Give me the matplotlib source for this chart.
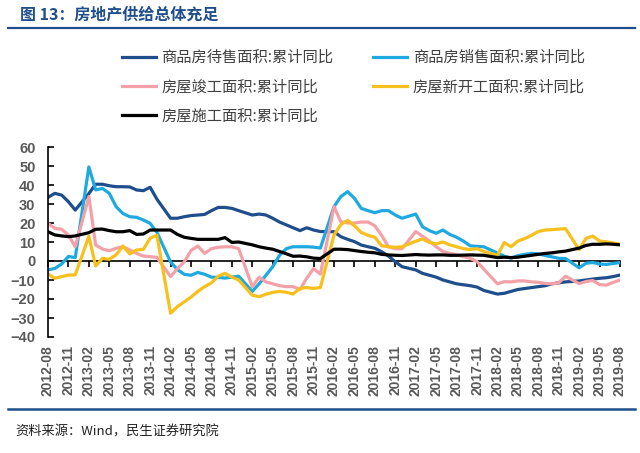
import numpy as np
import pandas as pd
import matplotlib
matplotlib.use('Agg')
import matplotlib.pyplot as plt
from matplotlib.lines import Line2D

plt.rcParams['font.family'] = ['Noto Sans CJK SC', 'DejaVu Sans']

# monthly, 2012-08 .. 2019-08 (no January value: Jan-Feb is reported together)
months = pd.period_range('2012-08', '2019-08', freq='M')
nan = np.nan

# 商品房待售面积:累计同比
inventory = [33.5, 35.6, 34.7, 31.2, 26.8,
             nan, 35.5, 40.4, 40.4, 39.6, 39.1, 39.1, 39.0, 37.4, 37.0, 38.8, 32.5,
             nan, 22.5, 22.5, 23.3, 23.9, 24.2, 24.5, 26.5, 28.2, 28.2, 27.7, 26.5,
             nan, 24.2, 24.7, 24.2, 22.5, 20.5, 19.0, 17.5, 16.0, 17.5, 16.3, 15.5,
             nan, 15.4, 12.8, 11.4, 10.2, 8.4, 7.5, 6.7, 4.9, 2.6, -0.4, -3.0,
             nan, -4.7, -6.5, -7.5, -8.5, -10.0, -11.0, -12.0, -12.5, -13.0, -13.7, -15.5,
             nan, -17.4, -17.0, -16.0, -15.0, -14.5, -14.0, -13.5, -13.0, -12.0, -11.5, -11.0,
             nan, -10.5, -10.0, -9.5, -9.1, -8.8, -8.2, -7.4]

# 商品房销售面积:累计同比
sales = [-4.7, -3.9, -1.6, 2.4, 1.8,
         nan, 49.5, 37.4, 38.2, 35.6, 28.6, 25.0, 23.3, 23.0, 21.6, 19.8, 15.0,
         nan, -0.5, -4.5, -7.0, -7.5, -6.0, -7.0, -8.5, -8.6, -9.0, -8.5, -8.0,
         nan, -16.0, -12.0, -7.5, -3.0, 3.0, 6.5, 7.5, 7.5, 7.5, 7.3, 6.8,
         nan, 28.6, 33.9, 36.5, 33.0, 27.7, 26.5, 25.4, 26.5, 26.5, 24.2, 22.5,
         nan, 24.7, 18.0, 16.0, 14.6, 16.3, 14.0, 12.5, 10.5, 8.0, 7.7, 7.5,
         nan, 4.2, 2.5, 1.5, 2.8, 3.5, 4.0, 3.8, 2.9, 2.2, 1.4, 1.3,
         nan, -3.6, -1.2, -0.8, -1.6, -1.8, -1.3, -0.8]

# 房屋竣工面积:累计同比
completed = [19.8, 17.2, 16.7, 13.7, 7.5,
             nan, 33.9, 8.4, 6.3, 5.4, 6.7, 7.5, 5.8, 4.0, 2.6, 2.3, 1.9,
             nan, -8.2, -4.0, -0.5, 5.5, 7.9, 4.0, 6.5, 7.2, 7.5, 7.5, 6.5,
             nan, -13.5, -8.5, -11.0, -12.0, -13.0, -13.5, -13.5, -15.0, -9.0, -4.0, -6.9,
             nan, 28.6, 20.7, 20.0, 20.0, 20.5, 20.5, 18.5, 13.5, 7.5, 6.5, 6.5,
             nan, 15.5, 13.0, 10.5, 7.5, 5.0, 4.0, 3.3, 2.3, 1.4, -0.3, -4.3,
             nan, -12.0, -10.9, -11.0, -10.5, -10.5, -11.0, -11.2, -11.8, -12.0, -11.5, -8.0,
             nan, -11.9, -10.8, -10.3, -12.4, -12.7, -11.3, -10.0]

# 房屋新开工面积:累计同比
started = [-6.8, -9.1, -8.2, -7.4, -7.3,
           nan, 13.0, -2.6, 1.4, 0.9, 3.2, 7.9, 3.7, 5.8, 6.1, 12.0, 13.5,
           nan, -27.5, -24.0, -21.5, -19.0, -16.0, -13.5, -11.5, -8.0, -6.5, -8.5, -10.0,
           nan, -18.0, -18.8, -17.5, -16.5, -16.0, -16.5, -17.4, -14.4, -14.0, -14.4, -14.0,
           nan, 13.7, 19.2, 21.4, 18.5, 15.0, 13.5, 12.5, 8.0, 7.5, 7.2, 7.5,
           nan, 10.4, 11.6, 9.8, 9.0, 10.0, 8.5, 7.5, 6.5, 6.0, 6.5, 5.0,
           nan, 3.0, 9.7, 7.5, 10.5, 11.8, 13.5, 15.5, 16.3, 16.5, 16.8, 17.0,
           nan, 6.0, 11.9, 13.1, 10.5, 10.1, 9.5, 8.9]

# 房屋施工面积:累计同比
construction = [15.4, 13.7, 13.2, 12.8, 13.2,
                nan, 14.9, 16.7, 16.8, 16.0, 15.4, 15.4, 16.0, 14.0, 14.2, 16.3, 16.3,
                nan, 16.3, 14.0, 12.5, 11.9, 11.4, 11.4, 11.4, 11.4, 12.3, 9.8, 10.0,
                nan, 8.5, 7.5, 6.8, 6.2, 5.0, 3.8, 2.5, 2.6, 2.2, 1.5, 1.3,
                nan, 6.2, 6.2, 6.0, 5.5, 5.0, 4.6, 4.3, 3.5, 3.2, 3.0, 2.9,
                nan, 3.4, 3.2, 3.1, 3.2, 3.2, 3.0, 3.0, 3.1, 3.2, 3.1, 3.0,
                nan, 1.8, 2.0, 1.8, 2.0, 2.5, 3.0, 3.5, 4.0, 4.3, 4.8, 5.2,
                nan, 6.8, 8.2, 8.8, 8.8, 9.0, 8.8, 8.5]

labels = ['商品房待售面积:累计同比', '商品房销售面积:累计同比', '房屋竣工面积:累计同比',
          '房屋新开工面积:累计同比', '房屋施工面积:累计同比']
colors = ['#1F4E8C', '#1EA9E1', '#F3A1A8', '#F8C01C', '#000000']
tick_labels = [str(p) for p in months[::3]]

x = np.arange(len(months))

fig = plt.figure(figsize=(6.4, 4.53), dpi=100)
ax = fig.add_axes([48 / 640, 1 - 337 / 453, 572 / 640, 190 / 453])

handles = {}
for vals, c, lab in zip([inventory, sales, completed, started, construction], colors, labels):
    y = np.array(vals, dtype=float)
    ok = ~np.isnan(y)
    h, = ax.plot(x[ok], y[ok], color=c, lw=2.3, label=lab)
    handles[lab] = h

ax.set_xlim(0, len(months) - 1)
ax.set_ylim(-40, 60)
ax.set_yticks(range(-40, 61, 10))
ax.set_xticks(x[::3])
ax.set_xticklabels(tick_labels, rotation=90, fontfamily='Liberation Sans',
                   fontweight='bold', fontsize=10, color='#595959')
for t in ax.get_yticklabels():
    t.set_fontfamily('Liberation Sans')
    t.set_fontweight('bold')
    t.set_fontsize(10.5)
    t.set_color('#595959')
ax.tick_params(axis='x', length=0, pad=6)
ax.tick_params(axis='y', direction='in', length=4, width=1.2, pad=9)
for s in ['top', 'right', 'bottom']:
    ax.spines[s].set_visible(False)
ax.spines['left'].set_linewidth(1.2)

# zero line carrying the month ticks
zero = ax.secondary_xaxis(0.4)
zero.set_xticks(x[::3])
zero.tick_params(direction='out', length=4, width=1.2, labelbottom=False)
zero.spines['bottom'].set_linewidth(1.2)

order = [labels[0], labels[2], labels[4], labels[1], labels[3]]
fig.legend([handles[k] for k in order], order, ncol=2, loc='upper left',
           bbox_to_anchor=(122 / 640, 1 - 49 / 453), frameon=False,
           fontsize=11, labelcolor='#404040', handlelength=2.2,
           handletextpad=0.38, columnspacing=2.6, labelspacing=0.8,
           borderpad=0, borderaxespad=0)

fig.text(20 / 640, 1 - 15 / 453, '图 13：房地产供给总体充足', fontsize=11.5,
         fontweight='bold', color='#1F4E8C', va='center', ha='left')
fig.add_artist(Line2D([8 / 640, 635 / 640], [1 - 28 / 453] * 2,
                      transform=fig.transFigure, color='#1F4E8C', lw=1.6))
fig.add_artist(Line2D([8 / 640, 635 / 640], [1 - 409 / 453] * 2,
                      transform=fig.transFigure, color='#1F4E8C', lw=1.8))
fig.text(15 / 640, 1 - 432 / 453, '资料来源：Wind，民生证券研究院', fontsize=9.5,
         color='#222222', va='center', ha='left')

fig.savefig('out.png', dpi=100)
